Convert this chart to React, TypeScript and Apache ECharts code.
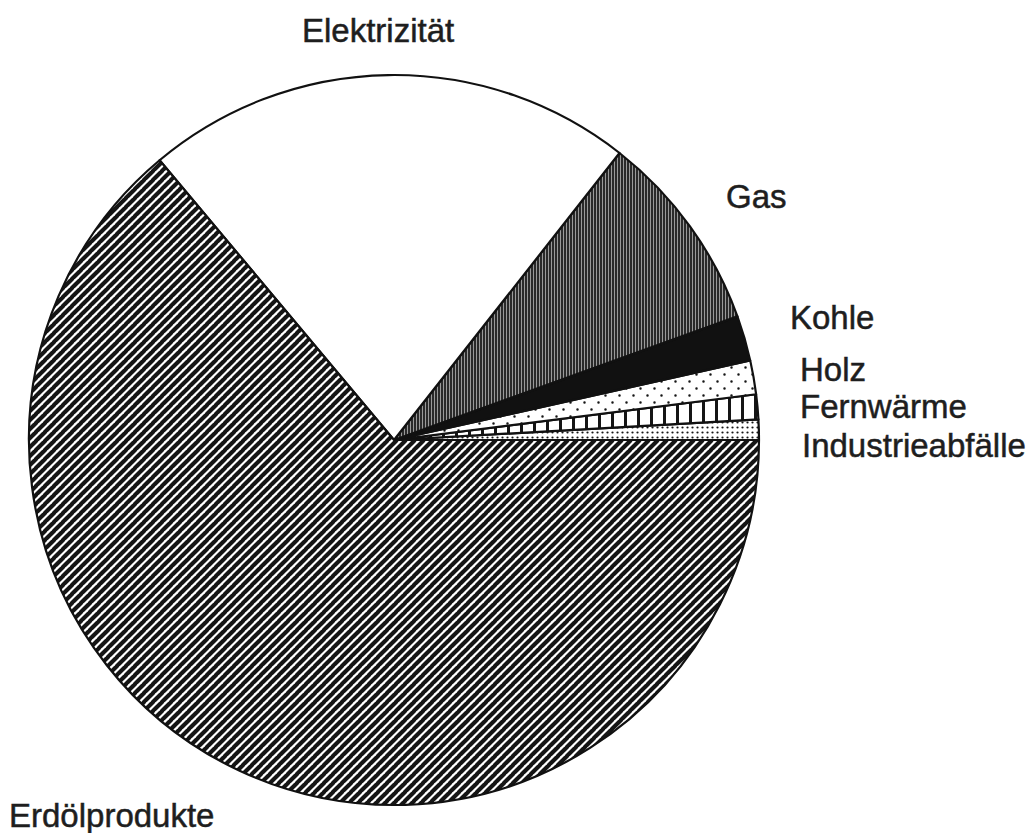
import React, { useEffect, useRef } from "react";
import * as echarts from "echarts";

const categories = [
  "Industrieabfälle",
  "Fernwärme",
  "Holz",
  "Kohle",
  "Gas",
  "Elektrizität",
  "Erdölprodukte",
];
const shares = [0.9, 1.1, 1.5, 2.0, 8.9, 21.7, 63.9];

// label anchor (left x, vertical middle y) for each category
const labelAnchors: [number, number][] = [
  [802, 445],
  [800, 406],
  [800, 369],
  [790, 317],
  [726, 196],
  [302, 30],
  [9, 815],
];

function makeTile(w: number, h: number, draw: (c: CanvasRenderingContext2D) => void) {
  const cv = document.createElement("canvas");
  cv.width = w;
  cv.height = h;
  const c = cv.getContext("2d")!;
  c.fillStyle = "#fff";
  c.fillRect(0, 0, w, h);
  draw(c);
  return { image: cv.toDataURL(), repeat: "repeat", imageWidth: w, imageHeight: h };
}

function buildPatterns() {
  const ink = "#151515";
  const dense = makeTile(5, 5, (c) => {
    c.fillStyle = ink;
    c.beginPath();
    c.arc(2.5, 2.5, 1.1, 0, Math.PI * 2);
    c.fill();
  });
  const bars = makeTile(13, 13, (c) => {
    c.fillStyle = ink;
    c.fillRect(0, 0, 3, 13);
  });
  const dots = makeTile(14, 14, (c) => {
    c.fillStyle = ink;
    c.beginPath();
    c.arc(3.5, 3.5, 1.25, 0, Math.PI * 2);
    c.arc(10.5, 10.5, 1.25, 0, Math.PI * 2);
    c.fill();
  });
  const fine = makeTile(3, 3, (c) => {
    c.fillStyle = "#9a9a9a";
    c.fillRect(0, 0, 3, 3);
    c.fillStyle = "#2a2a2a";
    c.fillRect(0, 0, 2, 3);
  });
  const diag = makeTile(9, 9, (c) => {
    c.strokeStyle = ink;
    c.lineWidth = 4.1;
    for (let k = -1; k <= 1; k++) {
      c.beginPath();
      c.moveTo(k * 9 - 1, 10);
      c.lineTo(k * 9 + 10, -1);
      c.stroke();
    }
  });
  return [dense, bars, dots, "#111111", fine, "#ffffff", diag];
}

export default function App() {
  const ref = useRef<HTMLDivElement>(null);
  useEffect(() => {
    if (!ref.current) return;
    const chart = echarts.init(ref.current, null, { renderer: "svg" });
    const fills = buildPatterns();
    chart.setOption({
      animation: false,
      backgroundColor: "#ffffff",
      series: [
        {
          type: "pie",
          silent: true,
          center: [394, 440],
          radius: [0, 365],
          startAngle: 0,
          clockwise: false,
          avoidLabelOverlap: false,
          itemStyle: { borderColor: "#111", borderWidth: 2.2 },
          label: {
            show: true,
            position: "outside",
            formatter: "{b}",
            color: "#1e1e1e",
            fontFamily: "Liberation Sans, Arial, sans-serif",
            fontSize: 33,
            textBorderColor: "#1e1e1e",
            textBorderWidth: 0.5,
          },
          labelLine: { show: false },
          labelLayout: (p: any) => {
            const a = labelAnchors[p.dataIndex];
            return { x: a[0], y: a[1], align: "left", verticalAlign: "middle" };
          },
          data: categories.map((name, i) => ({
            name,
            value: shares[i],
            itemStyle: { color: fills[i] },
          })),
        },
      ],
    });
    return () => chart.dispose();
  }, []);
  return (
    <div
      ref={ref}
      style={{ position: "absolute", left: 0, top: 0, width: 1036, height: 833 }}
    />
  );
}
